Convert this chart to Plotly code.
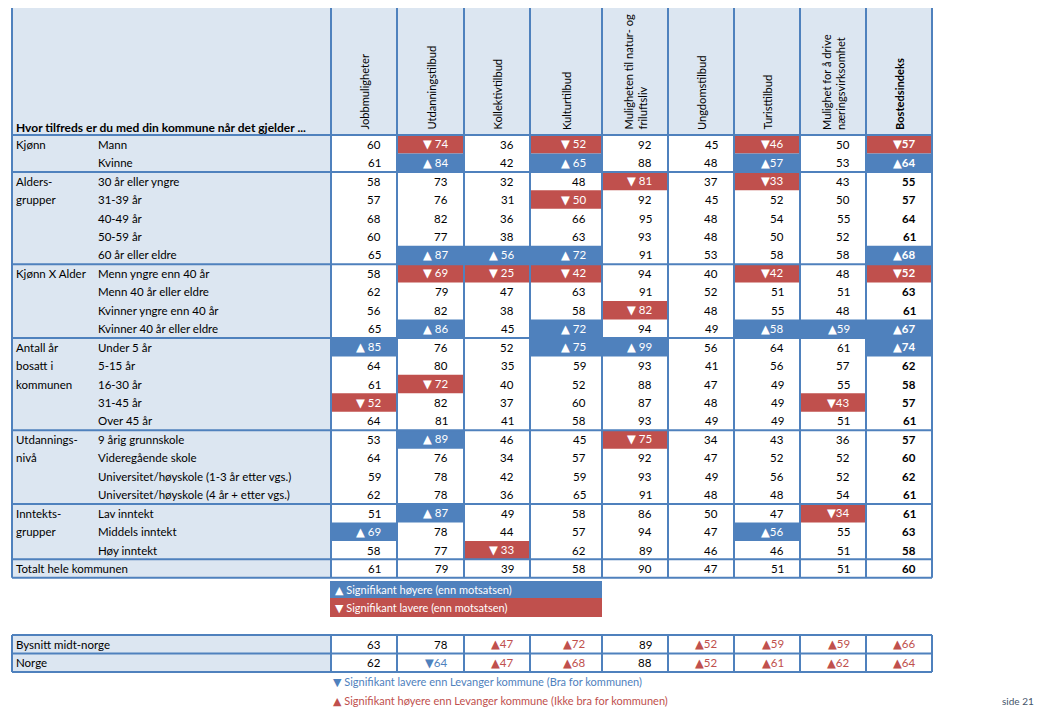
import plotly.graph_objects as go

# ---------------- data ----------------
columns = ["Jobbmuligheter", "Utdanningstilbud", "Kollektivtilbud", "Kulturtilbud",
           "Muligheten til natur- og<br>friluftsliv", "Ungdomstilbud", "Turisttilbud",
           "Mulighet for å drive<br>næringsvirksomhet", "<b>Bostedsindeks</b>"]

group_lines = [["Kjønn"], ["Alders-", "grupper"], ["Kjønn X Alder"],
               ["Antall år", "bosatt i", "kommunen"], ["Utdannings-", "nivå"],
               ["Inntekts-", "grupper"], ["Totalt hele kommunen"]]
group_sizes = [2, 5, 4, 5, 4, 3, 1]

row_labels = ["Mann", "Kvinne",
              "30 år eller yngre", "31-39 år", "40-49 år", "50-59 år", "60 år eller eldre",
              "Menn yngre enn 40 år", "Menn 40 år eller eldre", "Kvinner yngre enn 40 år",
              "Kvinner 40 år eller eldre",
              "Under 5 år", "5-15 år", "16-30 år", "31-45 år", "Over 45 år",
              "9 årig grunnskole", "Videregående skole",
              "Universitet/høyskole (1-3 år etter vgs.)",
              "Universitet/høyskole (4 år + etter vgs.)",
              "Lav inntekt", "Middels inntekt", "Høy inntekt",
              ""]

values = [
    [60, 74, 36, 52, 92, 45, 46, 50, 57],
    [61, 84, 42, 65, 88, 48, 57, 53, 64],
    [58, 73, 32, 48, 81, 37, 33, 43, 55],
    [57, 76, 31, 50, 92, 45, 52, 50, 57],
    [68, 82, 36, 66, 95, 48, 54, 55, 64],
    [60, 77, 38, 63, 93, 48, 50, 52, 61],
    [65, 87, 56, 72, 91, 53, 58, 58, 68],
    [58, 69, 25, 42, 94, 40, 42, 48, 52],
    [62, 79, 47, 63, 91, 52, 51, 51, 63],
    [56, 82, 38, 58, 82, 48, 55, 48, 61],
    [65, 86, 45, 72, 94, 49, 58, 59, 67],
    [85, 76, 52, 75, 99, 56, 64, 61, 74],
    [64, 80, 35, 59, 93, 41, 56, 57, 62],
    [61, 72, 40, 52, 88, 47, 49, 55, 58],
    [52, 82, 37, 60, 87, 48, 49, 43, 57],
    [64, 81, 41, 58, 93, 49, 49, 51, 61],
    [53, 89, 46, 45, 75, 34, 43, 36, 57],
    [64, 76, 34, 57, 92, 47, 52, 52, 60],
    [59, 78, 42, 59, 93, 49, 56, 52, 62],
    [62, 78, 36, 65, 91, 48, 48, 54, 61],
    [51, 87, 49, 58, 86, 50, 47, 34, 61],
    [69, 78, 44, 57, 94, 47, 56, 55, 63],
    [58, 77, 33, 62, 89, 46, 46, 51, 58],
    [61, 79, 39, 58, 90, 47, 51, 51, 60],
]
# '+' significantly higher, '-' significantly lower, '.' none
flags = [
    ".-.-..-.-", ".+.+..+.+",
    "....-.-..", "...-.....", ".........", ".........", ".+++....+",
    ".---..-.-", ".........", "....-....", ".+.+..+++",
    "+..++...+", ".........", ".-.......", "-......-.", ".........",
    ".+..-....", ".........", ".........", ".........",
    ".+.....-.", "+.....+..", "..-......",
    ".........",
]

bench_labels = ["Bysnitt midt-norge", "Norge"]
bench_values = [[63, 78, 47, 72, 89, 52, 59, 59, 66],
                [62, 64, 47, 68, 88, 52, 61, 62, 64]]
bench_flags = ["..++.++++", ".-++.++++"]

# ---------------- layout constants ----------------
BLUE = "#4F81BD"
RED = "#C0504D"
LIGHT = "#DCE6F1"
FONT = "Lato"
FS = 11.5

X0, XL = 12, 331
col_edges = [331, 397, 464, 530, 602, 668, 734, 800, 866, 932]
Y0, YH = 5, 135
RH = 18.45
n_rows = len(row_labels)
YB = YH + RH * n_rows

shapes = []
ann = []

UP = '<span style="font-family:DejaVu Sans">▲</span>'
DN = '<span style="font-family:DejaVu Sans">▼</span>'


def rect(x0, y0, x1, y1, fill, lw=0, lc=None):
    shapes.append(dict(type="rect", x0=x0, y0=y0, x1=x1, y1=y1, fillcolor=fill,
                       line=dict(width=lw, color=lc or fill), layer="below"))


def line(x0, y0, x1, y1, w=2, c=BLUE):
    shapes.append(dict(type="line", x0=x0, y0=y0, x1=x1, y1=y1,
                       line=dict(width=w, color=c), layer="above"))


def text(x, y, s, color="#000", size=FS, xa="left", ya="middle", angle=0, align="left", bold=False):
    if bold:
        s = "<b>" + s + "</b>"
    ann.append(dict(x=x, y=y, text=s, showarrow=False, xanchor=xa, yanchor=ya,
                    textangle=angle, align=align,
                    font=dict(family=FONT, size=size, color=color)))


# backgrounds
rect(X0, Y0, col_edges[-1], YH, LIGHT)
rect(X0, YH, XL, YB, LIGHT)

# header
text(14, 127, "Hvor tilfreds er du med din kommune når det gjelder ...", bold=True, size=12)
for j, c in enumerate(columns):
    cx = (col_edges[j] + col_edges[j + 1]) / 2
    text(cx, 132, c, xa="center", ya="bottom", angle=-90, align="left", size=11.1)

# rows
r = 0
group_bounds = [YH]
for g, size in enumerate(group_sizes):
    for k, ln in enumerate(group_lines[g]):
        text(14, YH + RH * (r + k) + RH / 2, ln)
    r += size
    group_bounds.append(YH + RH * r)

for i in range(n_rows):
    yc = YH + RH * i + RH / 2
    if row_labels[i]:
        text(96, yc, row_labels[i])
    for j in range(len(columns)):
        f = flags[i][j]
        v = values[i][j]
        xr = col_edges[j + 1] - 14
        bold = (j == len(columns) - 1)
        sep = "" if j >= 5 else " "
        if f == ".":
            text(xr, yc, str(v), xa="right", bold=bold)
        else:
            fill = BLUE if f == "+" else RED
            sym = UP if f == "+" else DN
            rect(col_edges[j], YH + RH * i, col_edges[j + 1], YH + RH * (i + 1), fill)
            text(xr, yc, sym + sep + str(v), color="white", xa="right", bold=bold)

# grid lines main table
for x in [X0] + col_edges:
    line(x, Y0, x, YB)
for y in [Y0] + group_bounds:
    line(X0, y, col_edges[-1], y)

# significance legend boxes
rect(330, 581, 602, 598, BLUE)
rect(330, 598, 602, 617, RED)
text(333, 589.5, UP + " Signifikant høyere (enn motsatsen)", color="white", size=11)
text(333, 607.5, DN + " Signifikant lavere (enn motsatsen)", color="white", size=11)

# benchmark table
BY0 = 635
BRH = 18.5
rect(X0, BY0, XL, BY0 + 2 * BRH, LIGHT)
for i, lab in enumerate(bench_labels):
    yc = BY0 + BRH * i + BRH / 2
    text(14, yc, lab)
    for j in range(len(columns)):
        f = bench_flags[i][j]
        v = bench_values[i][j]
        xr = col_edges[j + 1] - 14
        if f == ".":
            text(xr, yc, str(v), xa="right")
        elif f == "+":
            text(xr, yc, UP + str(v), color=RED, xa="right")
        else:
            text(xr, yc, DN + str(v), color=BLUE, xa="right")
for x in [X0] + col_edges:
    line(x, BY0, x, BY0 + 2 * BRH)
for k in range(3):
    line(X0, BY0 + BRH * k, col_edges[-1], BY0 + BRH * k)

# footnotes
text(331, 682, DN + " Signifikant lavere enn Levanger kommune (Bra for kommunen)", color=BLUE, size=11)
text(331, 701, UP + " Signifikant høyere enn Levanger kommune (Ikke bra for kommunen)", color=RED, size=11)
text(1000, 701, "side 21", color="#44546A", size=10)

# the page body adds an 8px offset; shift the coordinate window to compensate
OFF = 8
W, H = 1057, 709
fig = go.Figure()
fig.update_layout(
    width=W, height=H,
    margin=dict(l=0, r=0, t=0, b=0),
    paper_bgcolor="white", plot_bgcolor="white",
    xaxis=dict(range=[OFF, W + OFF], visible=False, fixedrange=True),
    yaxis=dict(range=[H + OFF, OFF], visible=False, fixedrange=True),
    shapes=shapes, annotations=ann,
    font=dict(family=FONT, size=FS),
    showlegend=False,
)
fig.write_html("out.html")
